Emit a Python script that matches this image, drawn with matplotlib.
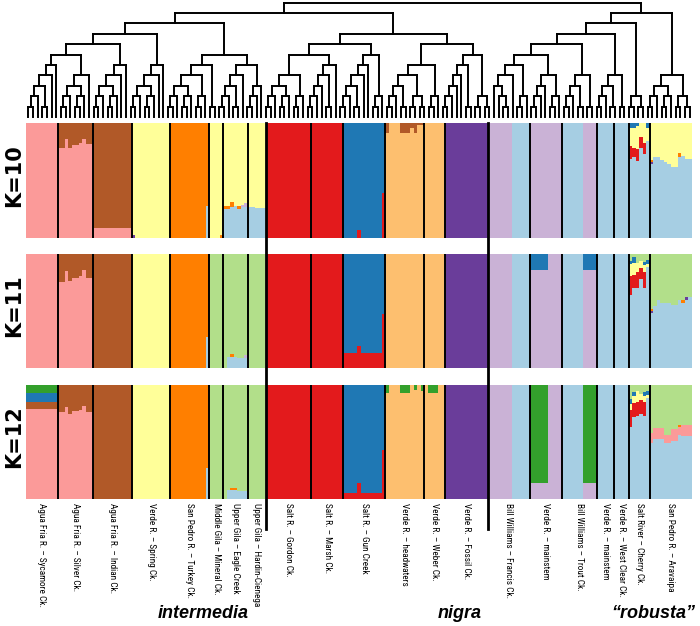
import numpy as np
import matplotlib
matplotlib.use("Agg")
import matplotlib.pyplot as plt
from matplotlib import font_manager
from matplotlib.collections import LineCollection
from matplotlib.lines import Line2D
from matplotlib.transforms import blended_transform_factory

# ---------------- data ----------------
pops = ["Agua Fria R. – Sycamore Ck.", "Agua Fria R. – Silver Ck.", "Agua Fria R. – Indian Ck.",
        "Verde R. – Spring Ck.", "San Pedro R. – Turkey Ck.", "Middle Gila – Mineral Ck.",
        "Upper Gila – Eagle Creek", "Upper Gila – Hardin-Cienega", "Salt R. – Gordon Ck.",
        "Salt R. – Marsh Ck.", "Salt R. – Gun Creek", "Verde R. – headwaters", "Verde R. – Weber Ck.",
        "Verde R. – Fossil Ck.", "Bill Williams – Francis Ck.", "Verde R. – mainstem",
        "Bill Williams – Trout Ck.", "Verde R. – mainstem", "Verde R. – West Clear Ck.",
        "Salt River – Cherry Ck.", "San Pedro R. – Aravaipa"]
n_ind = [9, 10, 11, 11, 11, 4, 7, 5, 13, 9, 12, 11, 6, 12, 12, 9, 10, 5, 4, 6, 12]
groups = ["intermedia", "nigra", "“robusta”"]
group_break_after = [7, 13]          # thick separators after these populations
k_labels = ["K=10", "K=11", "K=12"]

palette = {"lightblue": "#A6CEE3", "darkblue": "#1F78B4", "lightgreen": "#B2DF8A", "green": "#33A02C",
           "pink": "#FB9A99", "red": "#E31A1C", "lightorange": "#FDBF6F", "orange": "#FF7F00",
           "lavender": "#CAB2D6", "purple": "#6A3D9A", "yellow": "#FFFF99", "brown": "#B15928"}
stack_order = ["lightblue", "purple", "lavender", "red", "pink", "lightorange", "brown",
               "orange", "yellow", "darkblue", "lightgreen", "green"]

# majority cluster of each population (per K)
base_k10 = ["pink", "pink", "brown", "yellow", "orange", "yellow", "yellow", "yellow", "red", "red",
            "darkblue", "lightorange", "lightorange", "purple", "lavender", "lavender", "lightblue",
            "lightblue", "lightblue", "lightblue", "lightblue"]
base_k11 = ["pink", "pink", "brown", "yellow", "orange", "lightgreen", "lightgreen", "lightgreen", "red",
            "red", "darkblue", "lightorange", "lightorange", "purple", "lavender", "lavender",
            "lightblue", "lightblue", "lightblue", "lightblue", "lightblue"]
base_k12 = base_k11
# populations split between two majority clusters (individual level, all K)
francis_base = ["lavender", "lavender", "lavender", "lavender", "lavender", "lavender", "lavender",
                "lightblue", "lightblue", "lightblue", "lightblue", "lightblue"]
trout_base = ["lightblue", "lightblue", "lightblue", "lightblue", "lightblue", "lightblue",
              "lavender", "lavender", "lavender", "lavender"]

silver_brown_k10 = [0.22, 0.22, 0.14, 0.22, 0.19, 0.19, 0.175, 0.14, 0.18, 0.18]
silver_brown_k11 = [0.25, 0.25, 0.15, 0.24, 0.21, 0.21, 0.19, 0.14, 0.21, 0.21]
silver_brown_k12 = [0.24, 0.24, 0.19, 0.25, 0.23, 0.23, 0.22, 0.18, 0.24, 0.24]
indian_pink_k10 = [0.09, 0.09, 0.09, 0.09, 0.09, 0.09, 0.09, 0.09, 0.09, 0.09, 0.09]
spring_purple_k10 = [0.03, 0, 0, 0, 0, 0, 0, 0, 0, 0, 0]
turkey_lblue_k10 = [0, 0, 0, 0, 0, 0, 0, 0, 0, 0, 0.28]
turkey_lblue_k11 = [0, 0, 0, 0, 0, 0, 0, 0, 0, 0, 0.27]
turkey_lblue_k12 = [0, 0, 0, 0, 0, 0, 0, 0, 0, 0, 0.27]
mineral_orange_k10 = [0, 0, 0, 0.03]
eagle_lblue_k10 = [0.25, 0.25, 0.27, 0.28, 0.25, 0.27, 0.27]
eagle_orange_k10 = [0.03, 0.03, 0.04, 0, 0.03, 0, 0]
eagle_lav_k10 = [0, 0, 0, 0, 0, 0.02, 0.03]
eagle_lblue_k11 = [0, 0.10, 0.10, 0.10, 0.09, 0.09, 0.09]
eagle_orange_k11 = [0, 0, 0.02, 0, 0, 0, 0]
eagle_lav_k11 = [0, 0, 0, 0, 0, 0, 0.02]
eagle_lblue_k12 = [0, 0.08, 0.08, 0.08, 0.07, 0.07, 0.07]
eagle_orange_k12 = [0, 0, 0.015, 0.015, 0, 0, 0]
hardin_lblue_k10 = [0.27, 0.27, 0.26, 0.26, 0.26]
gun_red_k10 = [0, 0, 0, 0, 0.07, 0, 0, 0, 0, 0, 0, 0.39]
gun_red_k11 = [0.13, 0.13, 0.13, 0.13, 0.19, 0.13, 0.13, 0.13, 0.13, 0.13, 0.13, 0.47]
gun_red_k12 = [0.05, 0.05, 0.05, 0.05, 0.14, 0.05, 0.05, 0.05, 0.05, 0.05, 0.05, 0.43]
headw_brown_k10 = [0.09, 0, 0, 0, 0.09, 0.09, 0.09, 0.04, 0.09, 0.02, 0.02]
headw_green_k12 = [0.07, 0, 0, 0, 0.07, 0.07, 0.07, 0, 0.04, 0, 0.05]
weber_green_k12 = [0, 0.07, 0.07, 0.07, 0, 0]
sycamore_brown_k12 = [0.067, 0.067, 0.067, 0.067, 0.067, 0.067, 0.067, 0.067, 0.067]
sycamore_dblue_k12 = [0.08, 0.08, 0.08, 0.08, 0.08, 0.08, 0.08, 0.08, 0.08]
sycamore_green_k12 = [0.067, 0.067, 0.067, 0.067, 0.067, 0.067, 0.067, 0.067, 0.067]
vmain_dblue_k11 = [0.14, 0.14, 0.14, 0.14, 0.14, 0, 0, 0, 0]
trout_dblue_k11 = [0, 0, 0, 0, 0, 0, 0.14, 0.14, 0.14, 0.14]
vmain_green_k12 = [0.86, 0.86, 0.86, 0.86, 0.86, 0, 0, 0, 0]
trout_green_k12 = [0, 0, 0, 0, 0, 0, 0.86, 0.86, 0.86, 0.86]
cherry_dblue_k10 = [0.04, 0.04, 0.03, 0, 0, 0.04]
cherry_yellow_k10 = [0.16, 0.18, 0.20, 0.12, 0.17, 0.12]
cherry_red_k10 = [0.11, 0.08, 0.10, 0.10, 0.10, 0]
cherry_lgreen_k11 = [0.06, 0.03, 0.08, 0.06, 0.07, 0.05]
cherry_dblue_k11 = [0.03, 0.05, 0, 0, 0.03, 0.04]
cherry_yellow_k11 = [0.10, 0.10, 0.08, 0.06, 0.06, 0.02]
cherry_red_k11 = [0.17, 0.12, 0.14, 0.10, 0.14, 0]
cherry_lgreen_k12 = [0.12, 0.06, 0.05, 0.08, 0.06, 0.05]
cherry_dblue_k12 = [0.05, 0.04, 0, 0, 0.04, 0.04]
cherry_yellow_k12 = [0.05, 0.06, 0.10, 0.05, 0.05, 0.02]
cherry_red_k12 = [0.15, 0.12, 0.12, 0.12, 0.12, 0]
arav_yellow_k10 = [0.32, 0.30, 0.30, 0.32, 0.34, 0.36, 0.38, 0.38, 0.26, 0.29, 0.31, 0.31]
arav_orange_k10 = [0.02, 0, 0, 0, 0, 0, 0, 0, 0.035, 0, 0, 0]
arav_purple_k10 = [0.02, 0, 0, 0, 0, 0, 0, 0, 0, 0, 0, 0]
arav_lgreen_k11 = [0.48, 0.46, 0.40, 0.43, 0.43, 0.43, 0.45, 0.45, 0.40, 0.40, 0.38, 0.38]
arav_orange_k11 = [0.02, 0, 0, 0, 0, 0, 0, 0, 0, 0.03, 0, 0]
arav_purple_k11 = [0.02, 0, 0, 0, 0, 0, 0, 0, 0, 0, 0.02, 0]
arav_lgreen_k12 = [0.42, 0.38, 0.38, 0.38, 0.44, 0.44, 0.39, 0.39, 0.35, 0.35, 0.35, 0.35]
arav_pink_k12 = [0.09, 0.09, 0.09, 0.09, 0.07, 0.07, 0.10, 0.10, 0.07, 0.10, 0.10, 0.10]
arav_orange_k12 = [0, 0, 0, 0, 0, 0, 0, 0, 0.02, 0, 0, 0]

adm_k10 = [(1, "brown", silver_brown_k10), (2, "pink", indian_pink_k10), (3, "purple", spring_purple_k10),
           (4, "lightblue", turkey_lblue_k10), (5, "orange", mineral_orange_k10),
           (6, "lightblue", eagle_lblue_k10), (6, "orange", eagle_orange_k10), (6, "lavender", eagle_lav_k10),
           (7, "lightblue", hardin_lblue_k10), (10, "red", gun_red_k10), (11, "brown", headw_brown_k10),
           (19, "darkblue", cherry_dblue_k10), (19, "yellow", cherry_yellow_k10), (19, "red", cherry_red_k10),
           (20, "yellow", arav_yellow_k10), (20, "orange", arav_orange_k10), (20, "purple", arav_purple_k10)]
adm_k11 = [(1, "brown", silver_brown_k11), (4, "lightblue", turkey_lblue_k11),
           (6, "lightblue", eagle_lblue_k11), (6, "orange", eagle_orange_k11), (6, "lavender", eagle_lav_k11),
           (10, "red", gun_red_k11), (15, "darkblue", vmain_dblue_k11), (16, "darkblue", trout_dblue_k11),
           (19, "lightgreen", cherry_lgreen_k11), (19, "darkblue", cherry_dblue_k11),
           (19, "yellow", cherry_yellow_k11), (19, "red", cherry_red_k11),
           (20, "lightgreen", arav_lgreen_k11), (20, "orange", arav_orange_k11), (20, "purple", arav_purple_k11)]
adm_k12 = [(0, "brown", sycamore_brown_k12), (0, "darkblue", sycamore_dblue_k12), (0, "green", sycamore_green_k12),
           (1, "brown", silver_brown_k12), (4, "lightblue", turkey_lblue_k12),
           (6, "lightblue", eagle_lblue_k12), (6, "orange", eagle_orange_k12),
           (10, "red", gun_red_k12), (11, "green", headw_green_k12), (12, "green", weber_green_k12),
           (15, "green", vmain_green_k12), (16, "green", trout_green_k12),
           (19, "lightgreen", cherry_lgreen_k12), (19, "darkblue", cherry_dblue_k12),
           (19, "yellow", cherry_yellow_k12), (19, "red", cherry_red_k12),
           (20, "lightgreen", arav_lgreen_k12), (20, "pink", arav_pink_k12), (20, "orange", arav_orange_k12)]

# dendrogram topology: 17 lower clades (Newick-like, x = leaf) and the upper joins
clades = [
    "(((((x,x),x),(x,x)),x),x)",
    "((((x,x),x),((x,x),x)),x)",
    "(((((x,x),x),((x,x),x)),x),x)",
    "(((((x,x),x),((x,x),x)),x),x)",
    "(((((x,x),x),((x,x),x)),((x,x),x)),(x,x))",
    "(((((x,x),x),(x,x)),x),(((x,x),x),x))",
    "((((x,x),x),((x,x),x)),((x,x),x))",
    "(((((x,x),x),x),(x,x)),x)",
    "((((((x,x),x),(x,x)),x),x),((x,x),x))",
    "(((((x,x),x),(x,x)),((x,x),(x,x))),((x,x),x))",
    "((((((x,x),x),x),x),(x,x)),((x,x),(x,x)))",
    "(((x,(x,(x,x))),x),((x,x),x))",
    "((((x,x),x),x),((x,x),x))",
    "((((x,x),x),(x,x)),(x,x))",
    "((((x,x),x),(x,x)),(x,x))",
    "((x,x),(x,x))",
    "((((x,x),x),((x,x),x)),((x,x),(x,x)))",
]
upper_tree = "((((((0,1),2),3),(4,5)),(((6,7),8),(9,10))),(((((11,12),13),14),15),16))"


def expand(s):
    out = ""
    num = ""
    for ch in s + " ":
        if ch.isdigit():
            num += ch
            continue
        if num:
            out += clades[int(num)]
            num = ""
        if ch != " ":
            out += ch
    return out


def parse(s):
    stack = [[]]
    for ch in s:
        if ch == "(":
            stack.append([])
        elif ch == ")":
            node = stack.pop()
            stack[-1].append(node)
        elif ch == "x":
            stack[-1].append(None)
    return stack[0][0]

# ---------------- build Q matrices ----------------
N = sum(n_ind)
starts = np.concatenate([[0], np.cumsum(n_ind)])
ci = {c: i for i, c in enumerate(stack_order)}


def build_q(base, adm):
    q = np.zeros((N, len(stack_order)))
    for p, n in enumerate(n_ind):
        for j in range(n):
            idx = starts[p] + j
            if p == 14:
                b = francis_base[j]
            elif p == 16:
                b = trout_base[j]
            else:
                b = base[p]
            q[idx, ci[b]] = 1.0
    for p, c, vals in adm:
        for j, v in enumerate(vals):
            idx = starts[p] + j
            q[idx, ci[c]] += v
            bidx = np.argmax(q[idx])
            q[idx, bidx] -= v
    return q

Qs = [build_q(base_k10, adm_k10), build_q(base_k11, adm_k11), build_q(base_k12, adm_k12)]

# ---------------- fonts ----------------
avail = {f.name for f in font_manager.fontManager.ttflist}


def pick(*names):
    for n in names:
        if n in avail:
            return n
    return "DejaVu Sans"

narrow = pick("Liberation Sans Narrow", "DejaVu Sans Condensed", "Roboto Condensed", "Liberation Sans")
arial = pick("Liberation Sans", "Arimo", "DejaVu Sans")

# ---------------- figure ----------------
W, H = 700, 626
fig = plt.figure(figsize=(W / 100, H / 100), dpi=100)


def ax_px(left, top, right, bottom):
    return fig.add_axes([left / W, 1 - bottom / H, (right - left) / W, (bottom - top) / H])

LEFT, RIGHT = 26, 692
panel_tb = [(123, 238), (254, 368), (385, 499)]
axes = []
for (top, bot), q, lab in zip(panel_tb, Qs, k_labels):
    ax = ax_px(LEFT, top, RIGHT, bot)
    x = np.arange(N)
    bottom = np.zeros(N)
    for c in stack_order:
        h = q[:, ci[c]]
        if h.sum() > 0:
            ax.bar(x, h, bottom=bottom, width=1.0, align="edge", color=palette[c],
                   linewidth=0, antialiased=False)
        bottom += h
    for p in range(1, len(n_ind)):
        if (p - 1) in group_break_after:
            continue
        ax.axvline(starts[p], color="black", lw=1.4)
    ax.set_xlim(0, N)
    ax.set_ylim(0, 1)
    ax.axis("off")
    axes.append(ax)
    fig.text(14 / W, 1 - ((top + bot) / 2 - 5) / H, lab, rotation=90, ha="center", va="center",
             fontsize=15, fontweight="bold", family="DejaVu Sans")

# dendrogram (cladogram: node height = 1 + highest child)
tree = parse(expand(upper_tree))
segs = []
counter = [0]


def layout(node):
    if node is None:
        xx = counter[0] + 0.5
        counter[0] += 1
        return xx, 0
    res = [layout(c) for c in node]
    xs = [r[0] for r in res]
    hs = [r[1] for r in res]
    hh = max(hs) + 1
    for xx, hc in res:
        segs.append([(xx, hc), (xx, hh)])
    segs.append([(min(xs), hh), (max(xs), hh)])
    return (min(xs) + max(xs)) / 2, hh

_, root_h = layout(tree)
axd = ax_px(LEFT, 2.7, RIGHT, 117)
axd.add_collection(LineCollection(segs, colors="black", linewidths=1.4, capstyle="projecting", clip_on=False))
axd.set_xlim(0, counter[0])
axd.set_ylim(0, root_h)
axd.axis("off")

# thick group separators
tr = blended_transform_factory(axes[0].transData, fig.transFigure)
for p in group_break_after:
    b = starts[p + 1]
    fig.add_artist(Line2D([b, b], [1 - 123 / H, 1 - 529 / H], transform=tr, color="black", lw=2.0))

# population labels
trl = blended_transform_factory(axes[2].transData, fig.transFigure)
fs = 7.0
labs = []
for p, name in enumerate(pops):
    cx = (starts[p] + starts[p + 1]) / 2
    labs.append(fig.text(cx, 1 - 503 / H, name, transform=trl, rotation=270, ha="center", va="top",
                         fontsize=fs, family=[narrow, "DejaVu Sans"]))
fig.canvas.draw()
ext = labs[0].get_window_extent()
scale = 104.0 / ext.height
for t in labs:
    t.set_fontsize(fs * scale)

# group labels
for name, xc in zip(groups, [203, 460, 653]):
    fig.text(xc / W, 1 - 613 / H, name, ha="center", va="center", fontsize=13,
             fontweight="bold", fontstyle="italic", family=[arial, "DejaVu Sans"])

fig.savefig("out.png", dpi=100)
